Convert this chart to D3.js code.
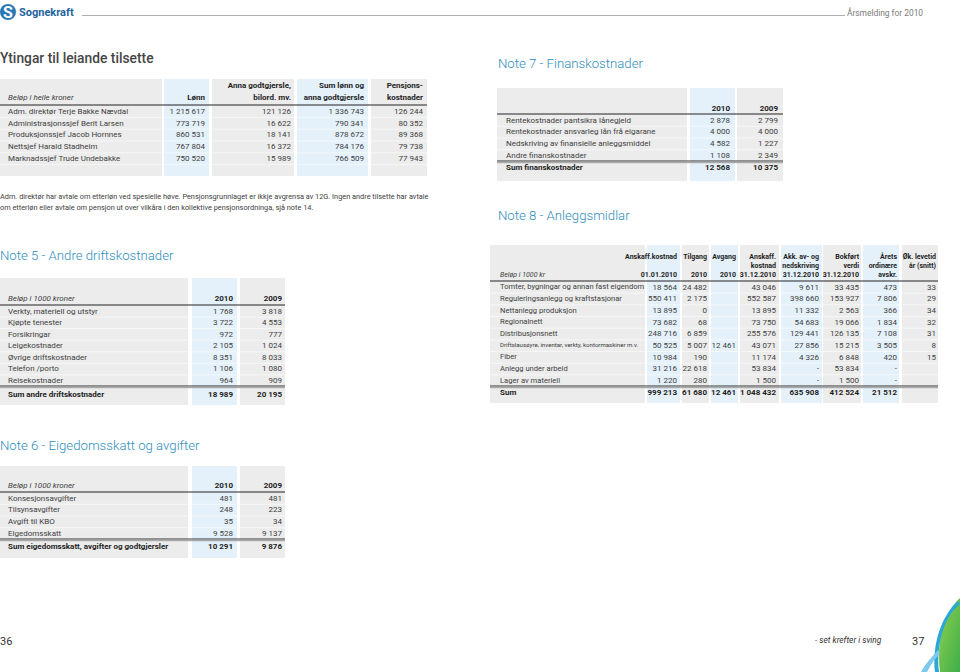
<!DOCTYPE html>
<html><head><meta charset="utf-8">
<script src="https://cdn.jsdelivr.net/npm/d3@7"></script>
<style>
body{margin:0;background:#fff;}
svg{display:block;font-family:Roboto,"Liberation Sans",sans-serif;}
</style></head><body>
<svg id="c" width="960" height="672"></svg>
<script>
// ---------- DATA ----------
const ytLabels = ["Adm. direktør Terje Bakke Nævdal","Administrasjonssjef Berit Larsen","Produksjonssjef Jacob Hornnes","Nettsjef Harald Stadheim","Marknadssjef Trude Undebakke"];
const ytHeaders = [["Lønn"],["Anna godtgjersle,","bilord. mv."],["Sum lønn og","anna godtgjersle"],["Pensjons-","kostnader"]];
const ytLonn = [1215617,773719,860531,767804,750520];
const ytAnna = [121126,16622,18141,16372,15989];
const ytSum = [1336743,790341,878672,784176,766509];
const ytPensjon = [126244,80352,89368,79738,77943];

const n5Labels = ["Verkty, materiell og utstyr","Kjøpte tenester","Forsikringar","Leigekostnader","Øvrige driftskostnader","Telefon /porto","Reisekostnader"];
const n5Y2010 = [1768,3722,972,2105,8351,1106,964];
const n5Y2009 = [3818,4553,777,1024,8033,1080,909];
const n5Sum = [18989,20195];

const n6Labels = ["Konsesjonsavgifter","Tilsynsavgifter","Avgift til KBO","Eigedomsskatt"];
const n6Y2010 = [481,248,35,9528];
const n6Y2009 = [481,223,34,9137];
const n6Sum = [10291,9876];

const n7Labels = ["Rentekostnader pantsikra lånegjeld","Rentekostnader ansvarleg lån frå eigarane","Nedskriving av finansielle anleggsmiddel","Andre finanskostnader"];
const n7Y2010 = [2878,4000,4582,1108];
const n7Y2009 = [2799,4000,1227,2349];
const n7Sum = [12568,10375];

const n8Labels = ["Tomter, bygningar og annan fast eigendom","Reguleringsanlegg og kraftstasjonar","Nettanlegg produksjon","Regionalnett","Distribusjonsnett","Driftslausøyre, inventar, verkty, kontormaskiner m.v.","Fiber","Anlegg under arbeid","Lager av materiell"];
const n8Headers = [["Anskaff.kostnad","","01.01.2010"],["Tilgang","","2010"],["Avgang","","2010"],["Anskaff.","kostnad","31.12.2010"],["Akk. av- og","nedskriving","31.12.2010"],["Bokført","verdi","31.12.2010"],["Årets","ordinære","avskr."],["Øk. levetid","år (snitt)",""]];
const n8Anskaff0101 = [18564,550411,13895,73682,248716,50525,10984,31216,1220];
const n8Tilgang = [24482,2175,0,68,6859,5007,190,22618,280];
const n8Avgang = [null,null,null,null,null,12461,null,null,null];
const n8Anskaff3112 = [43046,552587,13895,73750,255576,43071,11174,53834,1500];
const n8Akk = [9611,398660,11332,54683,129441,27856,4326,"-","-"];
const n8Bokfort = [33435,153927,2563,19066,126135,15215,6848,53834,1500];
const n8Arets = [473,7806,366,1834,7108,3505,420,"-","-"];
const n8Levetid = [33,29,34,32,31,8,15,null,null];
const n8Sum = [999213,61680,12461,1048432,635908,412524,21512,null];

// ---------- HELPERS ----------
const loc = d3.formatLocale({decimal:",",thousands:"\u00a0",grouping:[3],currency:["",""]});
const fmt = v => v==null ? "" : (typeof v==="string" ? v : loc.format(",d")(v));
const svg = d3.select("#c");
const GREY="#ececec", BLUE="#e4f1fa", TXT="#404040", HEAD="#1e1e1e", TITLE="#2f8dbb";

function drawTable(o){
  const g = svg.append("g");
  o.cols.forEach(c=>{
    g.append("rect").attr("x",c.x0).attr("y",o.top).attr("width",c.x1-c.x0).attr("height",o.bottom-o.top).attr("fill",c.bg);
  });
  const n = o.labels.length + (o.extraRows||0);
  const y = d3.scaleBand().domain(d3.range(n)).range([o.line, o.sumLine]);
  const X0=o.cols[0].x0, X1=o.cols[o.cols.length-1].x1;
  d3.range(1,n).forEach(i=>{
    g.append("line").attr("x1",X0).attr("x2",X1)
      .attr("y1",y(i)+0.5).attr("y2",y(i)+0.5).attr("stroke","#fff").attr("stroke-opacity",0.55).attr("stroke-width",1);
  });
  g.append("line").attr("x1",X0).attr("x2",X1)
    .attr("y1",o.line).attr("y2",o.line).attr("stroke","#222").attr("stroke-width",1.2);
  const hfs = o.hfs||o.fs, lfs = o.lfs||o.fs;
  if(o.unit) g.append("text").attr("x",o.labelX).attr("y",o.headY[o.headY.length-1]).attr("font-size",hfs).attr("font-style","italic").attr("fill",TXT).text(o.unit);
  o.headers.forEach((h,ci)=>{
    const c=o.cols[ci+1];
    const slots = o.headY.slice(-h.length);
    h.forEach((t,li)=>{
      if(!t) return;
      g.append("text").attr("x",c.ax).attr("y",slots[li]).attr("text-anchor","end")
        .attr("font-size",hfs).attr("font-weight",700).attr("fill",HEAD).text(t);
    });
  });
  o.labels.forEach((l,i)=>{
    g.append("text").attr("x",o.labelX).attr("y",y(i)+y.bandwidth()/2).attr("dy","0.35em")
      .attr("font-size",(o.smallRows&&o.smallRows.includes(i))?lfs-1.5:lfs).attr("fill",TXT).text(l);
    o.values.forEach((vals,ci)=>{
      g.append("text").attr("x",o.cols[ci+1].ax).attr("y",y(i)+y.bandwidth()/2).attr("dy","0.35em")
        .attr("text-anchor","end").attr("font-size",o.fs).attr("fill",TXT).text(fmt(vals[i]));
    });
  });
  if(o.sum){
    g.append("line").attr("x1",X0).attr("x2",X1)
      .attr("y1",o.sumLine).attr("y2",o.sumLine).attr("stroke","#333").attr("stroke-width",1);
    g.append("line").attr("x1",X0).attr("x2",X1)
      .attr("y1",o.sumLine+1.5).attr("y2",o.sumLine+1.5).attr("stroke","#aaa").attr("stroke-width",1.5);
    g.append("text").attr("x",o.labelX).attr("y",o.sumY).attr("dy","0.35em").attr("font-size",o.fs).attr("font-weight",700).attr("fill",HEAD).text(o.sumLabel);
    o.sum.forEach((v,ci)=>{
      g.append("text").attr("x",o.cols[ci+1].ax).attr("y",o.sumY).attr("dy","0.35em").attr("text-anchor","end")
        .attr("font-size",o.fs).attr("font-weight",700).attr("fill",HEAD).text(fmt(v));
    });
  }
  return g;
}
function title(x,y,t){
  svg.append("text").attr("x",x).attr("y",y).attr("font-size",13.2).attr("font-weight",300).attr("fill",TITLE).text(t);
}

// ---------- PAGE HEADER ----------
svg.append("circle").attr("cx",8).attr("cy",12).attr("r",8).attr("fill","#2b78b5");
svg.append("text").attr("x",8).attr("y",17.5).attr("text-anchor","middle").attr("font-size",16).attr("font-weight",700).attr("fill","#fff").text("S");
svg.append("text").attr("x",19).attr("y",16).attr("font-size",11).attr("font-weight",700).attr("fill","#1f64a0").text("Sognekraft");
svg.append("line").attr("x1",82).attr("x2",845).attr("y1",15.5).attr("y2",15.5).attr("stroke","#9a9a9a").attr("stroke-width",0.8);
svg.append("text").attr("x",847).attr("y",16).attr("font-size",8.4).attr("fill","#7a7a7a").text("Årsmelding for 2010");

// ---------- YTINGAR ----------
svg.append("text").attr("x",0).attr("y",63).attr("font-size",13.8).attr("font-weight",500).attr("fill","#454545").text("Ytingar til leiande tilsette");
drawTable({
  top:79,bottom:176,line:105,sumLine:176,extraRows:1,labelX:8,fs:8,
  headY:[88,100],unit:"Beløp i heile kroner",
  cols:[{x0:0,x1:162,bg:GREY},{x0:164,x1:209,bg:BLUE,ax:205},{x0:212,x1:294,bg:GREY,ax:291},{x0:297,x1:368,bg:BLUE,ax:364},{x0:371,x1:427,bg:GREY,ax:423}],
  headers:ytHeaders,labels:ytLabels,values:[ytLonn,ytAnna,ytSum,ytPensjon]
});
svg.append("text").attr("x",0).attr("y",199).attr("font-size",7.35).attr("fill",TXT).text("Adm. direktør har avtale om etterløn ved spesielle høve. Pensjonsgrunnlaget er ikkje avgrensa av 12G. Ingen andre tilsette har avtale");
svg.append("text").attr("x",0).attr("y",210).attr("font-size",7.35).attr("fill",TXT).text("om etterløn eller avtale om pensjon ut over vilkåra i den kollektive pensjonsordninga, sjå note 14.");

// ---------- NOTE 5 ----------
title(0,260,"Note 5 - Andre driftskostnader");
drawTable({
  top:278,bottom:405,line:305,sumLine:386,sumY:394,labelX:8,fs:8,
  headY:[301],unit:"Beløp i 1000 kroner",
  cols:[{x0:0,x1:188,bg:GREY},{x0:192,x1:237,bg:BLUE,ax:233},{x0:240,x1:285,bg:GREY,ax:282}],
  headers:[["2010"],["2009"]],labels:n5Labels,values:[n5Y2010,n5Y2009],sum:n5Sum,sumLabel:"Sum andre driftskostnader"
});

// ---------- NOTE 6 ----------
title(0,450,"Note 6 - Eigedomsskatt og avgifter");
drawTable({
  top:466,bottom:558,line:492,sumLine:539,sumY:546.5,labelX:8,fs:8,
  headY:[488],unit:"Beløp i 1000 kroner",
  cols:[{x0:0,x1:188,bg:GREY},{x0:192,x1:237,bg:BLUE,ax:233},{x0:240,x1:285,bg:GREY,ax:282}],
  headers:[["2010"],["2009"]],labels:n6Labels,values:[n6Y2010,n6Y2009],sum:n6Sum,sumLabel:"Sum eigedomsskatt, avgifter og godtgjersler"
});

// ---------- NOTE 7 ----------
title(498,68,"Note 7 - Finanskostnader");
drawTable({
  top:88,bottom:181,line:114,sumLine:161,sumY:167.5,labelX:506,fs:8,
  headY:[111],unit:"",
  cols:[{x0:497,x1:687,bg:GREY},{x0:690,x1:735,bg:BLUE,ax:730},{x0:737,x1:783,bg:GREY,ax:778}],
  headers:[["2010"],["2009"]],labels:n7Labels,values:[n7Y2010,n7Y2009],sum:n7Sum,sumLabel:"Sum finanskostnader"
});

// ---------- NOTE 8 ----------
title(498,220,"Note 8 - Anleggsmidlar");
drawTable({
  top:245,bottom:403,line:281,sumLine:386,sumY:392,labelX:500,fs:8,lfs:7.6,hfs:7,smallRows:[5],
  headY:[259,268,277],unit:"Beløp i 1000 kr",
  cols:[{x0:490,x1:645,bg:GREY},{x0:647,x1:680,bg:BLUE,ax:677},{x0:682,x1:709,bg:GREY,ax:707},{x0:711,x1:738,bg:BLUE,ax:736},
        {x0:740,x1:779,bg:GREY,ax:776},{x0:781,x1:822,bg:BLUE,ax:819},{x0:823,x1:861,bg:GREY,ax:859},{x0:863,x1:899,bg:BLUE,ax:897},{x0:902,x1:938,bg:GREY,ax:936}],
  headers:n8Headers,labels:n8Labels,
  values:[n8Anskaff0101,n8Tilgang,n8Avgang,n8Anskaff3112,n8Akk,n8Bokfort,n8Arets,n8Levetid],
  sum:n8Sum,sumLabel:"Sum"
});

// ---------- FOOTER ----------
svg.append("text").attr("x",0).attr("y",645).attr("font-size",11).attr("fill","#333").text("36");
svg.append("text").attr("x",815).attr("y",643).attr("font-size",8.4).attr("font-style","italic").attr("fill","#333").text("- set krefter i sving");
svg.append("text").attr("x",912).attr("y",645).attr("font-size",11).attr("fill","#333").text("37");
const defs = svg.append("defs");
const gr = defs.append("linearGradient").attr("id","sw").attr("x1","0").attr("y1","0").attr("x2","1").attr("y2","1");
gr.append("stop").attr("offset","0").attr("stop-color","#8fd14f");
gr.append("stop").attr("offset","1").attr("stop-color","#3fae49");
svg.append("path").attr("d","M960,598 C944,612 936,640 940,672 L960,672 Z").attr("fill","url(#sw)");
svg.append("path").attr("d","M958,601 C941,616 932,645 935,672 L939,672 C936,645 944,616 960,604 Z").attr("fill","#2aa6d9");
svg.append("path").attr("d","M938,650 C931,658 925,664 921,672 L927,672 C931,664 935,658 940,654 Z").attr("fill","#7ec8ee");
</script></body></html>
